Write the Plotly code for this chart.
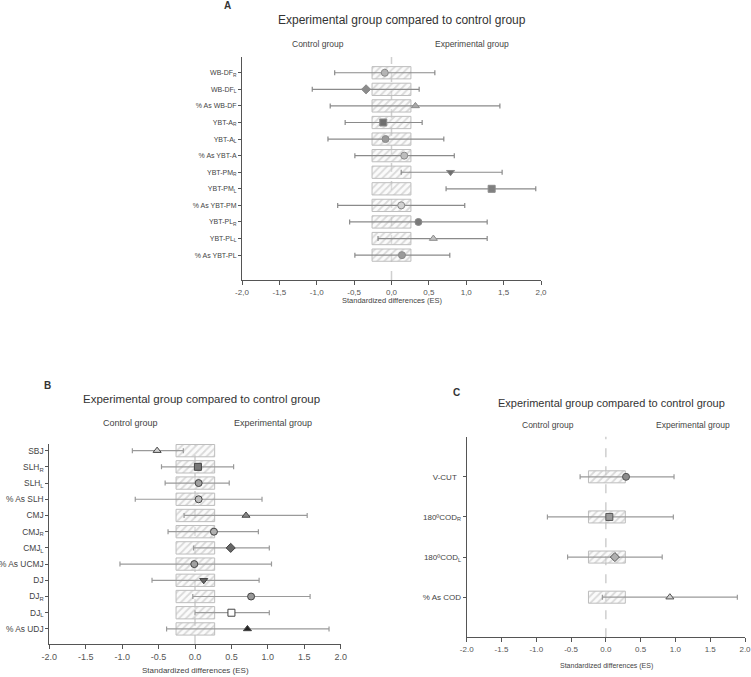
import plotly.graph_objects as go

# ---- Panel A data (effect sizes and 90% CI) ----
a_labels = ["WB-DF<sub>R</sub>", "WB-DF<sub>L</sub>", "% As WB-DF",
            "YBT-A<sub>R</sub>", "YBT-A<sub>L</sub>", "% As YBT-A",
            "YBT-PM<sub>R</sub>", "YBT-PM<sub>L</sub>", "% As YBT-PM",
            "YBT-PL<sub>R</sub>", "YBT-PL<sub>L</sub>", "% As YBT-PL"]
a_es = [-0.09, -0.34, 0.32, -0.11, -0.08, 0.17, 0.79, 1.34, 0.13, 0.36, 0.56, 0.14]
a_lo = [-0.76, -1.06, -0.82, -0.62, -0.85, -0.49, 0.13, 0.73, -0.72, -0.56, -0.18, -0.49]
a_hi = [0.58, 0.37, 1.45, 0.41, 0.70, 0.84, 1.48, 1.93, 0.98, 1.28, 1.28, 0.78]
a_swc = (-0.26, 0.26)

# ---- Panel B data ----
b_labels = ["SBJ", "SLH<sub>R</sub>", "SLH<sub>L</sub>", "% As SLH",
            "CMJ", "CMJ<sub>R</sub>", "CMJ<sub>L</sub>", "% As UCMJ",
            "DJ", "DJ<sub>R</sub>", "DJ<sub>L</sub>", "% As UDJ"]
b_es = [-0.52, 0.04, 0.05, 0.05, 0.70, 0.26, 0.49, -0.01, 0.12, 0.77, 0.50, 0.72]
b_lo = [-0.86, -0.46, -0.41, -0.82, -0.15, -0.37, -0.02, -1.03, -0.59, -0.03, 0.0, -0.39]
b_hi = [-0.16, 0.53, 0.47, 0.92, 1.54, 0.87, 1.02, 1.05, 0.88, 1.58, 1.02, 1.84]
b_swc = (-0.26, 0.27)

# ---- Panel C data ----
c_labels = ["V-CUT  ", "180ºCOD<sub>R</sub>", "180ºCOD<sub>L</sub>", "% As COD"]
c_es = [0.29, 0.05, 0.13, 0.92]
c_lo = [-0.37, -0.84, -0.55, -0.05]
c_hi = [0.98, 0.97, 0.81, 1.89]
c_swc = (-0.25, 0.28)

x_ticks = [-2.0, -1.5, -1.0, -0.5, 0.0, 0.5, 1.0, 1.5, 2.0]

# marker styles per row
a_symbols = ["circle", "diamond", "triangle-up", "square", "circle", "circle",
             "triangle-down", "square", "circle", "circle", "triangle-up", "circle"]
a_colors = ["#b4b4b4", "#8c8c8c", "#a8a8a8", "#6e6e6e", "#999999", "#bdbdbd",
            "#6e6e6e", "#7f7f7f", "#d2d2d2", "#7a7a7a", "#c0c0c0", "#9a9a9a"]
b_symbols = ["triangle-up", "square", "circle", "circle", "triangle-up", "circle",
             "diamond", "circle", "triangle-down", "circle", "square", "triangle-up"]
b_colors = ["#d0d0d0", "#777777", "#a0a0a0", "#c0c0c0", "#888888", "#b0b0b0",
            "#666666", "#a0a0a0", "#666666", "#999999", "#ffffff", "#222222"]
c_symbols = ["circle", "square", "diamond", "triangle-up"]
c_colors = ["#8c8c8c", "#9a9a9a", "#b0b0b0", "#d0d0d0"]

FONT = "Liberation Sans, Arial, sans-serif"


def add_panel(fig, labels, es, lo, hi, swc, symbols, colors, xa, ya,
              box_w, mline, ecolor):
    n = len(labels)
    # hatched "trivial" area
    fig.add_trace(go.Bar(
        y=labels, x=[swc[1] - swc[0]] * n, base=[swc[0]] * n,
        orientation="h", width=box_w, xaxis=xa, yaxis=ya,
        marker=dict(color="rgba(240,240,240,0.3)",
                    line=dict(color="#bdbdbd", width=1),
                    pattern=dict(shape="/", fgcolor="#b8b8b8",
                                 bgcolor="rgba(242,242,242,0.35)",
                                 size=5, solidity=0.35)),
        hoverinfo="skip"))
    # effect sizes with CI
    fig.add_trace(go.Scatter(
        y=labels, x=es, mode="markers", xaxis=xa, yaxis=ya,
        error_x=dict(type="data", symmetric=False,
                     array=[h - e for h, e in zip(hi, es)],
                     arrayminus=[e - l for e, l in zip(es, lo)],
                     color=ecolor, thickness=1.2, width=2.5),
        marker=dict(symbol=symbols, color=colors, size=7,
                    line=dict(color=mline, width=1))))


fig = go.Figure()
add_panel(fig, a_labels, a_es, a_lo, a_hi, a_swc, a_symbols, a_colors,
          "x", "y", 0.74, "#8a8a8a", "#8a8a8a")
add_panel(fig, b_labels, b_es, b_lo, b_hi, b_swc, b_symbols, b_colors,
          "x2", "y2", 0.76, "#444444", "#9a9a9a")
add_panel(fig, c_labels, c_es, c_lo, c_hi, c_swc, c_symbols, c_colors,
          "x3", "y3", 0.3, "#555555", "#9a9a9a")

W, H = 751, 677


def px(x):
    return x / W


def py(y):
    return 1 - y / H


def xaxis(dom, yref, tickfont, ticktext):
    return dict(domain=dom, anchor=yref, range=[-2, 2], tickvals=x_ticks,
                ticktext=ticktext, showline=True, linecolor="#555555",
                linewidth=1, ticks="outside", ticklen=4, tickcolor="#555555",
                showgrid=False, zeroline=False, automargin=False,
                ticklabeloverflow="allow",
                tickfont=dict(size=tickfont, color="#555555", family=FONT))


def yaxis(dom, xref, labels, rng, tickfont):
    return dict(domain=dom, anchor=xref, type="category", categoryarray=labels,
                range=rng, showline=True, linecolor="#555555", linewidth=1,
                ticks="outside", ticklen=3, tickcolor="#555555",
                showgrid=False, zeroline=False, automargin=False,
                ticklabeloverflow="allow",
                tickfont=dict(size=tickfont, color="#444444", family=FONT))


comma_ticks = [f"{v:.1f}".replace(".", ",") for v in x_ticks]
dot_ticks = [f"{v:.1f}" for v in x_ticks]

fig.update_layout(
    width=W, height=H,
    margin=dict(l=0, r=0, t=0, b=0),
    paper_bgcolor="white", plot_bgcolor="white",
    showlegend=False, barmode="overlay",
    font=dict(family=FONT, color="#444444"),
    xaxis=xaxis([px(242), px(541)], "y", 8, comma_ticks),
    yaxis=yaxis([py(280), py(57)], "x", a_labels, [12.5, -0.95], 7),
    xaxis2=xaxis([px(49.3), px(340.7)], "y2", 9, dot_ticks),
    yaxis2=yaxis([py(644), py(444)], "x2", b_labels, [11.93, -0.41], 8.4),
    xaxis3=xaxis([px(466.7), px(745)], "y3", 8, dot_ticks),
    yaxis3=yaxis([py(637.3), py(436.7)], "x3", c_labels, [4, -1], 8),
)

# dashed zero lines
for xa, ya in [("x", "y"), ("x2", "y2"), ("x3", "y3")]:
    fig.add_shape(type="line", xref=xa, yref=f"{ya} domain", x0=0, x1=0,
                  y0=0, y1=1, layer="below",
                  line=dict(color="#cfcfcf", width=1.5, dash="dash"))

# titles, group labels, axis titles
texts = [
    ("<b>A</b>", 227, 6, 10, "#333333"),
    ("Experimental group compared to control group", 402, 20, 12, "#333333"),
    ("Control group", 318, 44, 8.5, "#444444"),
    ("Experimental group", 472, 44, 8.5, "#444444"),
    ("Standardized differences (ES)", 391.5, 300, 7.5, "#444444"),
    ("<b>B</b>", 47, 385, 10, "#333333"),
    ("Experimental group compared to control group", 201.7, 399, 11.5, "#333333"),
    ("Control group", 130, 423, 9, "#444444"),
    ("Experimental group", 273, 423, 9, "#444444"),
    ("Standardized differences (ES)", 195, 670.5, 8, "#444444"),
    ("<b>C</b>", 456, 392, 10, "#333333"),
    ("Experimental group compared to control group", 611.7, 403, 11, "#333333"),
    ("Control group", 548, 425, 8.5, "#444444"),
    ("Experimental group", 693, 425, 8.5, "#444444"),
    ("Standardized differences (ES)", 606, 665.7, 7, "#444444"),
]
for t, x, y, s, col in texts:
    fig.add_annotation(text=t, x=px(x), y=py(y), xref="paper", yref="paper",
                       showarrow=False, xanchor="center", yanchor="middle",
                       font=dict(size=s, color=col, family=FONT))

# drop the default 8px body margin so the figure fills the window exactly
fig.write_html("out.html", config={"displayModeBar": False},
               post_script="document.body.style.margin = '0';")
